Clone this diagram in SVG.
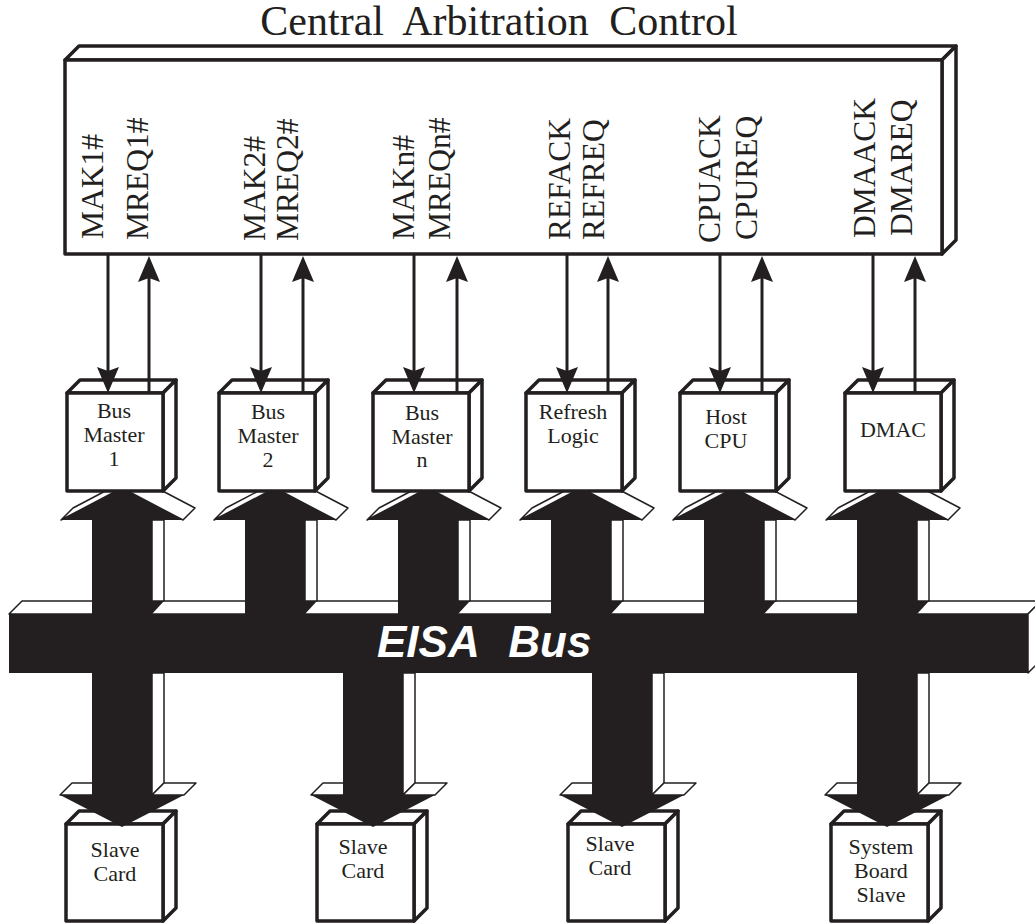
<svg xmlns="http://www.w3.org/2000/svg" width="1035" height="923" viewBox="0 0 1035 923">
<style>
.k{fill:#231f20}
.w{fill:#fff;stroke:#231f20;stroke-width:1.5;stroke-linejoin:round}
.bx{fill:#fff;stroke:#231f20;stroke-width:3.5;stroke-linejoin:round}
.ln{stroke:#231f20;stroke-width:3;fill:none;marker-end:url(#ah)}
.lbl{font-family:"Liberation Serif",serif;font-size:31.5px;fill:#231f20}
.bt{font-family:"Liberation Serif",serif;font-size:22px;fill:#231f20;text-anchor:middle}
</style>
<defs>
<marker id="ah" viewBox="0 0 26 22" markerWidth="26" markerHeight="22" refX="16" refY="11" orient="auto" markerUnits="userSpaceOnUse">
<path d="M0,0 L26,11 L0,22 L4,11 Z" fill="#231f20"/>
</marker>
</defs>
<rect width="1035" height="923" fill="#fff"/>

<g id="central-arbitration-control">
<text x="499" y="35" font-family="Liberation Serif, serif" font-size="42" fill="#231f20" text-anchor="middle" word-spacing="10">Central Arbitration Control</text>
<path class="bx" d="M65,60 L79,46 L956,46 L942,60 Z"/>
<path class="bx" d="M942,60 L956,46 L956,240 L942,254 Z"/>
<rect class="bx" x="65" y="60" width="877" height="194"/>
<text class="lbl" transform="translate(103,239) rotate(-90)">MAK1#</text>
<text class="lbl" transform="translate(148,240) rotate(-90)">MREQ1#</text>
<text class="lbl" transform="translate(265,241) rotate(-90)">MAK2#</text>
<text class="lbl" transform="translate(298,241) rotate(-90)">MREQ2#</text>
<text class="lbl" transform="translate(414,240) rotate(-90)">MAKn#</text>
<text class="lbl" transform="translate(450,240) rotate(-90)">MREQn#</text>
<text class="lbl" transform="translate(570,240) rotate(-90)">REFACK</text>
<text class="lbl" transform="translate(604,240) rotate(-90)">REFREQ</text>
<text class="lbl" transform="translate(720,243) rotate(-90)">CPUACK</text>
<text class="lbl" transform="translate(757,240) rotate(-90)">CPUREQ</text>
<text class="lbl" transform="translate(875,238) rotate(-90)">DMAACK</text>
<text class="lbl" transform="translate(912,236) rotate(-90)">DMAREQ</text>
</g>

<g id="slave-card-1">
<path class="bx" d="M66,824 L79,811 L176,811 L163,824 Z"/>
<path class="bx" d="M163,824 L176,811 L176,908 L163,921 Z"/>
<rect class="bx" x="66" y="824" width="97" height="97"/>
<text class="bt" x="115" y="857">Slave</text>
<text class="bt" x="115" y="881">Card</text>
</g>
<g id="slave-card-2">
<path class="bx" d="M317,824 L330,811 L427,811 L414,824 Z"/>
<path class="bx" d="M414,824 L427,811 L427,908 L414,921 Z"/>
<rect class="bx" x="317" y="824" width="97" height="97"/>
<text class="bt" x="363" y="854">Slave</text>
<text class="bt" x="363" y="878">Card</text>
</g>
<g id="slave-card-3">
<path class="bx" d="M568,824 L581,811 L678,811 L665,824 Z"/>
<path class="bx" d="M665,824 L678,811 L678,908 L665,921 Z"/>
<rect class="bx" x="568" y="824" width="97" height="97"/>
<text class="bt" x="610" y="851">Slave</text>
<text class="bt" x="610" y="875">Card</text>
</g>
<g id="system-board-slave">
<path class="bx" d="M831,824 L844,811 L941,811 L928,824 Z"/>
<path class="bx" d="M928,824 L941,811 L941,908 L928,921 Z"/>
<rect class="bx" x="831" y="824" width="97" height="97"/>
<text class="bt" x="881" y="854">System</text>
<text class="bt" x="881" y="878">Board</text>
<text class="bt" x="881" y="902">Slave</text>
</g>

<g id="eisa-bus">
<path class="w" d="M9,614 L22,601 L1041,601 L1028,614 Z"/>
<path class="w" d="M1028,614 L1041,601 L1041,660 L1028,673 Z"/>
<rect class="k" x="9" y="614" width="1019" height="59"/>
</g>

<g id="bus-connectors">
<path class="w" d="M122,488 L183,520 L195,508 L134,476 Z"/>
<path class="w" d="M61,520 L122,488 L134,476 L73,508 Z"/>
<rect class="w" x="152" y="520" width="12" height="81"/>
<path class="w" d="M152,673 L164,673 L164,783 L152,795 Z"/>
<path class="w" d="M60,795 L92,795 L104,783 L72,783 Z"/>
<path class="w" d="M152,795 L184,795 L196,783 L164,783 Z"/>

<path class="w" d="M275,488 L336,520 L348,508 L287,476 Z"/>
<path class="w" d="M214,520 L275,488 L287,476 L226,508 Z"/>
<rect class="w" x="305" y="520" width="12" height="81"/>

<path class="w" d="M428,488 L489,520 L501,508 L440,476 Z"/>
<path class="w" d="M367,520 L428,488 L440,476 L379,508 Z"/>
<rect class="w" x="458" y="520" width="12" height="81"/>

<path class="w" d="M581,488 L642,520 L654,508 L593,476 Z"/>
<path class="w" d="M520,520 L581,488 L593,476 L532,508 Z"/>
<rect class="w" x="611" y="520" width="12" height="81"/>

<path class="w" d="M734,488 L795,520 L807,508 L746,476 Z"/>
<path class="w" d="M673,520 L734,488 L746,476 L685,508 Z"/>
<rect class="w" x="764" y="520" width="12" height="81"/>

<path class="w" d="M887,488 L948,520 L960,508 L899,476 Z"/>
<path class="w" d="M826,520 L887,488 L899,476 L838,508 Z"/>
<rect class="w" x="917" y="520" width="12" height="81"/>
<path class="w" d="M917,673 L929,673 L929,783 L917,795 Z"/>
<path class="w" d="M825,795 L857,795 L869,783 L837,783 Z"/>
<path class="w" d="M917,795 L949,795 L961,783 L929,783 Z"/>

<path class="w" d="M403,673 L415,673 L415,783 L403,795 Z"/>
<path class="w" d="M311,795 L343,795 L355,783 L323,783 Z"/>
<path class="w" d="M403,795 L435,795 L447,783 L415,783 Z"/>

<path class="w" d="M652,673 L664,673 L664,783 L652,795 Z"/>
<path class="w" d="M560,795 L592,795 L604,783 L572,783 Z"/>
<path class="w" d="M652,795 L684,795 L696,783 L664,783 Z"/>

<path class="k" d="M122,488 L183,520 L152,520 L152,795 L184,795 L122,827 L60,795 L92,795 L92,520 L61,520 Z"/>
<path class="k" d="M275,488 L336,520 L305,520 L305,616 L245,616 L245,520 L214,520 Z"/>
<path class="k" d="M428,488 L489,520 L458,520 L458,616 L398,616 L398,520 L367,520 Z"/>
<path class="k" d="M581,488 L642,520 L611,520 L611,616 L551,616 L551,520 L520,520 Z"/>
<path class="k" d="M734,488 L795,520 L764,520 L764,616 L704,616 L704,520 L673,520 Z"/>
<path class="k" d="M887,488 L948,520 L917,520 L917,795 L949,795 L887,827 L825,795 L857,795 L857,520 L826,520 Z"/>
<path class="k" d="M343,671 L403,671 L403,795 L435,795 L373,827 L311,795 L343,795 Z"/>
<path class="k" d="M592,671 L652,671 L652,795 L684,795 L622,827 L560,795 L592,795 Z"/>
<path class="k" d="M152,601 L164,601 L152,614 Z"/>
<path class="k" d="M305,601 L317,601 L305,614 Z"/>
<path class="k" d="M458,601 L470,601 L458,614 Z"/>
<path class="k" d="M611,601 L623,601 L611,614 Z"/>
<path class="k" d="M764,601 L776,601 L764,614 Z"/>
<path class="k" d="M917,601 L929,601 L917,614 Z"/>
</g>

<g id="eisa-bus-label">
<text x="377" y="657" font-family="Liberation Sans, sans-serif" font-weight="bold" font-style="italic" font-size="44" fill="#fff" word-spacing="18">EISA Bus</text>
</g>

<g id="bus-master-1">
<path class="bx" d="M67,393 L80,380 L176,380 L163,393 Z"/>
<path class="bx" d="M163,393 L176,380 L176,478 L163,491 Z"/>
<rect class="bx" x="67" y="393" width="96" height="98"/>
<text class="bt" x="114" y="418">Bus</text>
<text class="bt" x="114" y="442">Master</text>
<text class="bt" x="114" y="466">1</text>
</g>
<g id="bus-master-2">
<path class="bx" d="M219,393 L232,380 L328,380 L315,393 Z"/>
<path class="bx" d="M315,393 L328,380 L328,478 L315,491 Z"/>
<rect class="bx" x="219" y="393" width="96" height="98"/>
<text class="bt" x="268" y="419">Bus</text>
<text class="bt" x="268" y="443">Master</text>
<text class="bt" x="268" y="467">2</text>
</g>
<g id="bus-master-n">
<path class="bx" d="M373,393 L386,380 L482,380 L469,393 Z"/>
<path class="bx" d="M469,393 L482,380 L482,478 L469,491 Z"/>
<rect class="bx" x="373" y="393" width="96" height="98"/>
<text class="bt" x="422" y="420">Bus</text>
<text class="bt" x="422" y="444">Master</text>
<text class="bt" x="422" y="467">n</text>
</g>
<g id="refresh-logic">
<path class="bx" d="M526,393 L539,380 L635,380 L622,393 Z"/>
<path class="bx" d="M622,393 L635,380 L635,478 L622,491 Z"/>
<rect class="bx" x="526" y="393" width="96" height="98"/>
<text class="bt" x="573" y="419">Refresh</text>
<text class="bt" x="573" y="443">Logic</text>
</g>
<g id="host-cpu">
<path class="bx" d="M680,393 L693,380 L789,380 L776,393 Z"/>
<path class="bx" d="M776,393 L789,380 L789,478 L776,491 Z"/>
<rect class="bx" x="680" y="393" width="96" height="98"/>
<text class="bt" x="726" y="424">Host</text>
<text class="bt" x="726" y="448">CPU</text>
</g>
<g id="dmac">
<path class="bx" d="M845,393 L858,380 L954,380 L941,393 Z"/>
<path class="bx" d="M941,393 L954,380 L954,478 L941,491 Z"/>
<rect class="bx" x="845" y="393" width="96" height="98"/>
<text class="bt" x="893" y="437">DMAC</text>
</g>

<g id="signal-connectors">
<line class="ln" x1="108" y1="255" x2="108" y2="383"/>
<line class="ln" x1="149" y1="393" x2="149" y2="266"/>
<line class="ln" x1="261" y1="255" x2="261" y2="383"/>
<line class="ln" x1="303" y1="393" x2="303" y2="266"/>
<line class="ln" x1="414" y1="255" x2="414" y2="383"/>
<line class="ln" x1="457" y1="393" x2="457" y2="266"/>
<line class="ln" x1="567" y1="255" x2="567" y2="383"/>
<line class="ln" x1="608" y1="393" x2="608" y2="266"/>
<line class="ln" x1="720" y1="255" x2="720" y2="383"/>
<line class="ln" x1="762" y1="393" x2="762" y2="266"/>
<line class="ln" x1="873" y1="255" x2="873" y2="383"/>
<line class="ln" x1="915" y1="393" x2="915" y2="266"/>
</g>
</svg>
